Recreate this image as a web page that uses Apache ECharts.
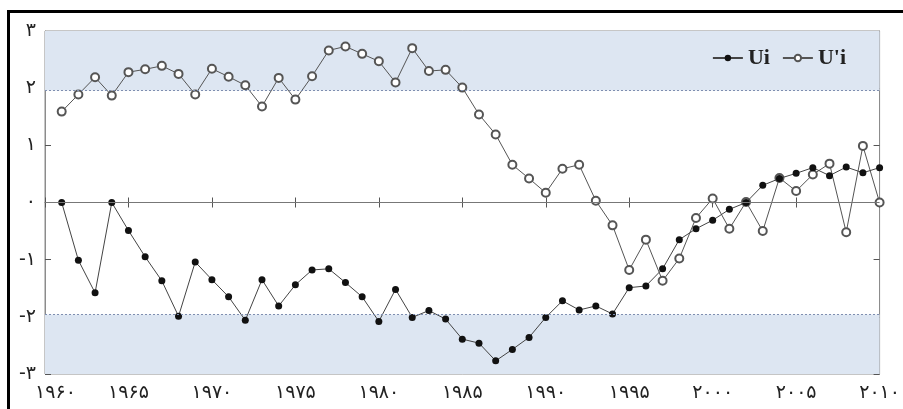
<!DOCTYPE html>
<html>
<head>
<meta charset="utf-8">
<script src="https://cdn.jsdelivr.net/npm/echarts@6/dist/echarts.min.js"></script>
<style>
html,body{margin:0;padding:0;background:#fff;}
#c{width:903px;height:409px;}
</style>
</head>
<body>
<div id="c"></div>
<script>
// Years (x) 1961..2010
const years = [1961,1962,1963,1964,1965,1966,1967,1968,1969,1970,
  1971,1972,1973,1974,1975,1976,1977,1978,1979,1980,
  1981,1982,1983,1984,1985,1986,1987,1988,1989,1990,
  1991,1992,1993,1994,1995,1996,1997,1998,1999,2000,
  2001,2002,2003,2004,2005,2006,2007,2008,2009,2010];
// Forward statistic Ui
const ui = [0,-1.01,-1.58,0,-0.49,-0.95,-1.37,-1.99,-1.04,-1.35,
  -1.65,-2.06,-1.35,-1.81,-1.44,-1.18,-1.16,-1.40,-1.65,-2.08,
  -1.52,-2.01,-1.89,-2.04,-2.39,-2.46,-2.77,-2.57,-2.36,-2.01,
  -1.72,-1.88,-1.81,-1.95,-1.49,-1.46,-1.16,-0.65,-0.46,-0.31,
  -0.12,0,0.30,0.42,0.51,0.61,0.47,0.62,0.52,0.61];
// Backward statistic U'i
const uib = [1.59,1.89,2.19,1.87,2.28,2.33,2.39,2.25,1.89,2.34,
  2.20,2.05,1.68,2.18,1.80,2.21,2.66,2.73,2.60,2.47,
  2.10,2.70,2.30,2.32,2.01,1.54,1.19,0.66,0.42,0.17,
  0.59,0.66,0.03,-0.40,-1.18,-0.65,-1.37,-0.98,-0.27,0.07,
  -0.46,0.01,-0.50,0.43,0.20,0.49,0.68,-0.52,0.99,0];
// Significance thresholds and axis labels
const thresholds = [-1.96, 1.96];
const xTickValues = [1960,1965,1970,1975,1980,1985,1990,1995,2000,2005,2010];
const xTickLabels = ['۱۹۶۰','۱۹۶۵','۱۹۷۰','۱۹۷۵','۱۹۸۰','۱۹۸۵','۱۹۹۰','۱۹۹۵','۲۰۰۰','۲۰۰۵','۲۰۱۰'];
const yTickValues = [-3,-2,-1,0,1,2,3];
const yTickLabels = ['-۳','-۲','-۱','۰','۱','۲','۳'];

const uiData = years.map((y,i)=>[y, ui[i]]);
const uibData = years.map((y,i)=>[y, uib[i]]);

const axisCol = '#8c8c8c';
const labelFont = {fontFamily:'DejaVu Sans', fontSize:19, color:'#222'};

const chart = echarts.init(document.getElementById('c'), null, {renderer:'canvas'});
chart.setOption({
  animation:false,
  backgroundColor:'#fff',
  grid:{left:45, right:13, top:31, bottom:35, show:true, borderColor:axisCol, borderWidth:1, backgroundColor:'#fff'},
  legend:{
    data:['Ui',"U'i"],
    right:52, top:42,
    itemWidth:30, itemHeight:8, itemGap:12,
    textStyle:{fontFamily:'Liberation Serif', fontWeight:'bold', fontSize:22, color:'#222'}
  },
  xAxis:[{
    type:'value', min:1960, max:2010, interval:5, position:'bottom',
    axisLine:{show:true, lineStyle:{color:axisCol}},
    axisTick:{show:true, inside:true, length:5, lineStyle:{color:'#555'}},
    splitLine:{show:false},
    axisLabel:{
      ...labelFont, margin:10,
      formatter:function(v){
        const i = xTickValues.indexOf(v);
        if(i<0) return '';
        return i===0 ? '{f|'+xTickLabels[i]+'}' : xTickLabels[i];
      },
      rich:{f:{...labelFont, padding:[0,0,0,21]}}
    }
  },{
    type:'value', min:1960, max:2010, interval:5, position:'top',
    axisLine:{show:true, lineStyle:{color:axisCol}},
    axisTick:{show:true, inside:true, length:5, lineStyle:{color:'#555'}},
    splitLine:{show:false}, axisLabel:{show:false}
  }],
  yAxis:[{
    type:'value', min:-3, max:3, interval:1, position:'left',
    axisLine:{show:true, lineStyle:{color:axisCol}},
    axisTick:{show:true, inside:true, length:6, lineStyle:{color:'#555'}},
    splitLine:{show:false},
    axisLabel:{...labelFont, margin:9, formatter:function(v){const i=yTickValues.indexOf(v);return i<0?'':yTickLabels[i];}}
  },{
    type:'value', min:-3, max:3, interval:1, position:'right',
    axisLine:{show:true, lineStyle:{color:axisCol}},
    axisTick:{show:true, inside:true, length:6, lineStyle:{color:'#555'}},
    splitLine:{show:false}, axisLabel:{show:false}
  }],
  series:[{
    name:"U'i", type:'line', data:uibData, z:3,
    symbol:'emptyCircle', symbolSize:8,
    lineStyle:{color:'#555', width:1},
    itemStyle:{color:'#555', borderWidth:1},
    markArea:{silent:true, itemStyle:{color:'#dde6f2'}, data:[
      [{yAxis:thresholds[1]},{yAxis:3}],
      [{yAxis:-3},{yAxis:thresholds[0]}]
    ]},
    markLine:{silent:true, symbol:'none', label:{show:false}, data:[
      {yAxis:thresholds[0], lineStyle:{color:'#7f8fb0', type:[2,2], width:1}},
      {yAxis:thresholds[1], lineStyle:{color:'#7f8fb0', type:[2,2], width:1}},
      {yAxis:0, lineStyle:{color:'#777', type:'solid', width:1.2}}
    ]}
  },{
    name:'Ui', type:'line', data:uiData, z:4,
    symbol:'circle', symbolSize:7,
    lineStyle:{color:'#444', width:1},
    itemStyle:{color:'#111'}
  }],
  graphic:[{
    type:'polyline', silent:true,
    shape:{points:[[8.5,409],[8.5,11.5],[903,11.5]]},
    style:{stroke:'#000', lineWidth:3, fill:null}
  }]
});
</script>
</body>
</html>
